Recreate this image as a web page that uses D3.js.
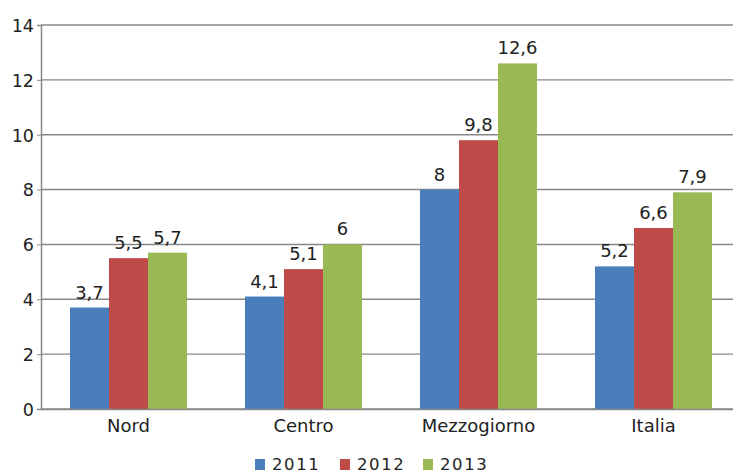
<!DOCTYPE html>
<html><head><meta charset="utf-8">
<script src="https://cdn.jsdelivr.net/npm/d3@7"></script>
<style>body{margin:0;background:#fff}svg{display:block}</style>
</head><body>
<svg id="c" width="733" height="475"></svg>
<script>
const categories = ["Nord", "Centro", "Mezzogiorno", "Italia"];
const seriesNames = ["2011", "2012", "2013"];
const values2011 = [3.7, 4.1, 8, 5.2];
const values2012 = [5.5, 5.1, 9.8, 6.6];
const values2013 = [5.7, 6, 12.6, 7.9];
const yTicks = [0, 2, 4, 6, 8, 10, 12, 14];
const colors = ["#4a7ebb", "#be4b48", "#98b954"];

const series = [values2011, values2012, values2013];
const svg = d3.select("#c");
const font = "DejaVu Sans, Verdana, sans-serif";
const m = {left: 41, top: 25, right: 741, bottom: 409};

const x = d3.scaleBand().domain(categories).range([m.left, m.right]).paddingInner(0).paddingOuter(0);
const x1 = d3.scaleBand().domain(seriesNames).range([0, 117]);
const y = d3.scaleLinear().domain([0, 14]).range([m.bottom, m.top]);

// gridlines
svg.append("g").selectAll("line").data(yTicks).join("line")
  .attr("x1", m.left).attr("x2", m.right)
  .attr("y1", d => y(d)).attr("y2", d => y(d))
  .attr("stroke", "#888").attr("stroke-width", 1.4);

// bars
const groups = svg.append("g").selectAll("g").data(categories).join("g")
  .attr("transform", c => `translate(${x(c) + (x.bandwidth() - 117) / 2},0)`);
seriesNames.forEach((s, i) => {
  groups.append("rect")
    .attr("x", x1(s)).attr("width", x1.bandwidth())
    .attr("y", (c, j) => y(series[i][j]))
    .attr("height", (c, j) => y(0) - y(series[i][j]))
    .attr("fill", colors[i]);
  groups.append("text")
    .attr("x", x1(s) + x1.bandwidth() / 2)
    .attr("y", (c, j) => y(series[i][j]) - 9)
    .attr("text-anchor", "middle")
    .attr("font-family", font).attr("font-size", 18).attr("fill", "#222")
    .text((c, j) => String(series[i][j]).replace(".", ","));
});

// y axis
const yAxis = d3.axisLeft(y).tickValues(yTicks).tickSize(4).tickPadding(3);
const ya = svg.append("g").attr("transform", `translate(${m.left},0)`).call(yAxis);
ya.select(".domain").attr("stroke", "#888").attr("stroke-width", 1.5);
ya.selectAll(".tick line").attr("stroke", "#888");
ya.selectAll("text").attr("font-family", font).attr("font-size", 17.5).attr("fill", "#222")
  .attr("dy", "0.36em");

// x axis
const xAxis = d3.axisBottom(x).tickSize(0).tickPadding(0);
const xa = svg.append("g").attr("transform", `translate(0,${m.bottom})`).call(xAxis);
xa.select(".domain").attr("stroke", "#888").attr("stroke-width", 1.5);
xa.selectAll("text").attr("font-family", font).attr("font-size", 18).attr("fill", "#222")
  .attr("y", 23).attr("dy", 0);

// legend
const legX = [255, 340, 423];
const leg = svg.append("g").selectAll("g").data(seriesNames).join("g")
  .attr("transform", (d, i) => `translate(${legX[i]},459)`);
leg.append("rect").attr("width", 10).attr("height", 11).attr("fill", (d, i) => colors[i]);
leg.append("text").attr("x", 17).attr("y", 11)
  .attr("font-family", font).attr("font-size", 16.5).attr("fill", "#222")
  .attr("letter-spacing", 1.6).text(d => d);
</script>
</body></html>
